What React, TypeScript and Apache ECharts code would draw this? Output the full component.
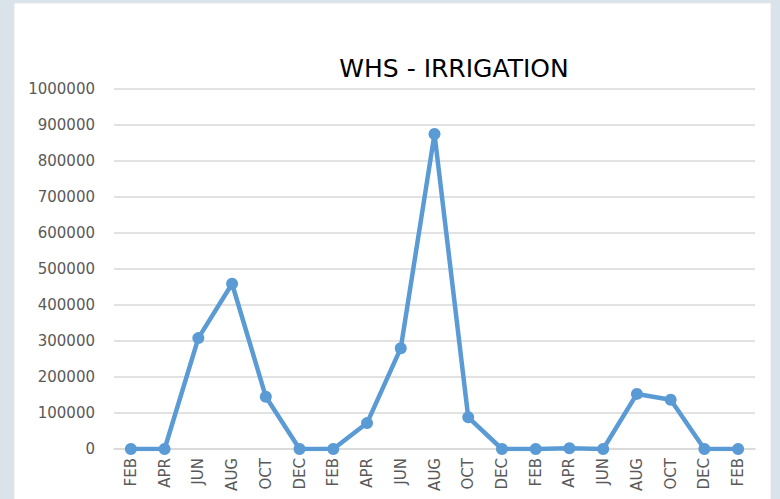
import React, { useEffect, useRef } from "react";
import * as echarts from "echarts";

const months: string[] = [
  "FEB", "APR", "JUN", "AUG", "OCT", "DEC",
  "FEB", "APR", "JUN", "AUG", "OCT", "DEC",
  "FEB", "APR", "JUN", "AUG", "OCT", "DEC", "FEB",
];
const irrigation: number[] = [
  0, 0, 308000, 459000, 145000, 0,
  0, 72000, 280000, 875000, 88000, 0,
  0, 2000, 0, 153000, 137000, 0, 0,
];
const chartTitle = "WHS - IRRIGATION";

export default function App() {
  const ref = useRef<HTMLDivElement>(null);
  useEffect(() => {
    if (!ref.current) return;
    const chart = echarts.init(ref.current, undefined, { renderer: "svg" });
    const font = "DejaVu Sans";
    chart.setOption({
      animation: false,
      backgroundColor: "#dbe3ea",
      graphic: [
        {
          type: "rect",
          shape: { x: 14, y: 3, width: 757, height: 500 },
          style: { fill: "#ffffff", stroke: "#e3e6e9", lineWidth: 1 },
          z: -10,
        },
      ],
      title: {
        text: chartTitle,
        left: 449,
        top: 51,
        textAlign: "center",
        textStyle: { fontFamily: font, fontSize: 25, fontWeight: "normal", color: "#000000" },
      },
      grid: { left: 114, right: 25, top: 89, bottom: 50, containLabel: false },
      xAxis: {
        type: "category",
        data: months,
        boundaryGap: true,
        axisLine: { show: true, lineStyle: { color: "#d9d9d9", width: 1.5 } },
        axisTick: { show: false },
        axisLabel: {
          rotate: 90,
          interval: 0,
          margin: 9,
          fontFamily: font,
          fontSize: 15,
          color: "#595959",
        },
      },
      yAxis: {
        type: "value",
        min: 0,
        max: 1000000,
        interval: 100000,
        axisLine: { show: false },
        axisTick: { show: false },
        splitLine: { lineStyle: { color: "#d9d9d9", width: 1.5 } },
        axisLabel: {
          margin: 19,
          fontFamily: font,
          fontSize: 15,
          color: "#595959",
          formatter: (v: number) => String(v),
        },
      },
      series: [
        {
          type: "line",
          data: irrigation,
          symbol: "circle",
          symbolSize: 12,
          lineStyle: { color: "#5b9bd5", width: 4.5 },
          itemStyle: { color: "#5b9bd5" },
        },
      ],
    });
    return () => chart.dispose();
  }, []);
  return (
    <div
      ref={ref}
      style={{ position: "fixed", left: 0, top: 0, width: 780, height: 499 }}
    />
  );
}
